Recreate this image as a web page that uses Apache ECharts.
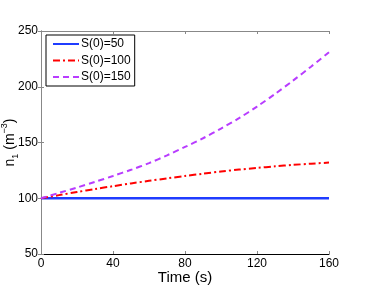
<!DOCTYPE html>
<html>
<head>
<meta charset="utf-8">
<script src="https://cdn.jsdelivr.net/npm/echarts@6/dist/echarts.min.js"></script>
<style>
html,body{margin:0;padding:0;background:#fff;}
#c{width:382px;height:286px;}
</style>
</head>
<body>
<div id="c"></div>
<script>
const time = [0,10,20,30,40,50,60,70,80,90,100,110,120,130,140,150,160];
const s50  = [100,100,100,100,100,100,100,100,100,100,100,100,100,100,100,100,100];
const s100 = [100,102.8,105.6,108.3,110.8,113.3,115.6,117.8,120,122,124,125.7,127.2,128.6,129.9,131,132];
const s150 = [100,104.8,109.6,114.7,120,125.5,131.5,138.5,146,153.8,162.5,171.8,182.2,193.5,205.5,218,231];
const seriesNames = ['S(0)=50','S(0)=100','S(0)=150'];
const xTicks = [0,40,80,120,160];
const yTicks = [50,100,150,200,250];

const pairs = a => time.map((t,i)=>[t,a[i]]);
const font = 'Liberation Sans, Arial, Helvetica, sans-serif';
const chart = echarts.init(document.getElementById('c'), null, {renderer:'canvas'});
const hidden = {show:false};
chart.setOption({
  animation:false,
  backgroundColor:'#fff',
  textStyle:{fontFamily:font},
  grid:{left:41,right:53,top:31,bottom:32,containLabel:false,outerBoundsMode:'none'},
  legend:{
    orient:'vertical', left:46, top:35,
    data:seriesNames,
    padding:[3,4,3,6],
    itemWidth:26, itemHeight:14, itemGap:4.5,
    borderColor:'#000', borderWidth:1, backgroundColor:'#fff',
    itemStyle:{opacity:0},
    textStyle:{fontSize:12,color:'#000',fontFamily:font,padding:[0,0,0,-3]}
  },
  xAxis:[{
    type:'value', min:xTicks[0], max:xTicks[xTicks.length-1], interval:40,
    name:'Time (s)', nameLocation:'middle', nameGap:16, nameMoveOverlap:false,
    nameTextStyle:{fontSize:15,color:'#000',fontFamily:font},
    axisLine:{show:true,lineStyle:{color:'#000',width:1}},
    axisTick:{show:true,inside:true,length:3,lineStyle:{color:'#888'}},
    axisLabel:{fontSize:12,color:'#000',margin:4,fontFamily:font},
    splitLine:hidden
  },{
    type:'value', position:'top', min:0, max:160, interval:40,
    axisLine:{show:true,lineStyle:{color:'#888',width:1}},
    axisTick:{show:true,inside:true,length:3,lineStyle:{color:'#888'}},
    axisLabel:hidden, splitLine:hidden
  }],
  yAxis:[{
    type:'value', min:yTicks[0], max:yTicks[yTicks.length-1], interval:50,
    name:'{n|n}{sub|1}{n| (m}{sup|−3}{n|)}',
    nameLocation:'middle', nameGap:21, nameRotate:90, nameMoveOverlap:false,
    nameTextStyle:{
      color:'#000', fontFamily:font,
      rich:{
        n:{fontSize:14,fontFamily:font,color:'#000',lineHeight:20,verticalAlign:'middle'},
        sub:{fontSize:9,fontFamily:font,color:'#000',lineHeight:20,verticalAlign:'bottom'},
        sup:{fontSize:9,fontFamily:font,color:'#000',lineHeight:20,verticalAlign:'top'}
      }
    },
    axisLine:{show:true,lineStyle:{color:'#888',width:1}},
    axisTick:{show:true,inside:true,length:3,lineStyle:{color:'#888'}},
    axisLabel:{fontSize:12,color:'#000',margin:3,fontFamily:font},
    splitLine:hidden
  },{
    type:'value', position:'right', min:50, max:250, interval:50,
    axisLine:{show:true,lineStyle:{color:'#888',width:1}},
    axisTick:{show:true,inside:true,length:3,lineStyle:{color:'#888'}},
    axisLabel:hidden, splitLine:hidden
  }],
  series:[
    {name:seriesNames[0],type:'line',data:pairs(s50),showSymbol:false,symbol:'none',
     lineStyle:{color:'#1f3cff',width:2.5,type:'solid'},itemStyle:{color:'#1f3cff'},z:3},
    {name:seriesNames[1],type:'line',data:pairs(s100),showSymbol:false,symbol:'none',smooth:0.3,
     lineStyle:{color:'#ff0000',width:2,type:[7,3,2,3]},itemStyle:{color:'#ff0000'},z:4},
    {name:seriesNames[2],type:'line',data:pairs(s150),showSymbol:false,symbol:'none',smooth:0.3,
     lineStyle:{color:'#b83cff',width:2,type:[6,4]},itemStyle:{color:'#b83cff'},z:5}
  ]
});
</script>
</body>
</html>
